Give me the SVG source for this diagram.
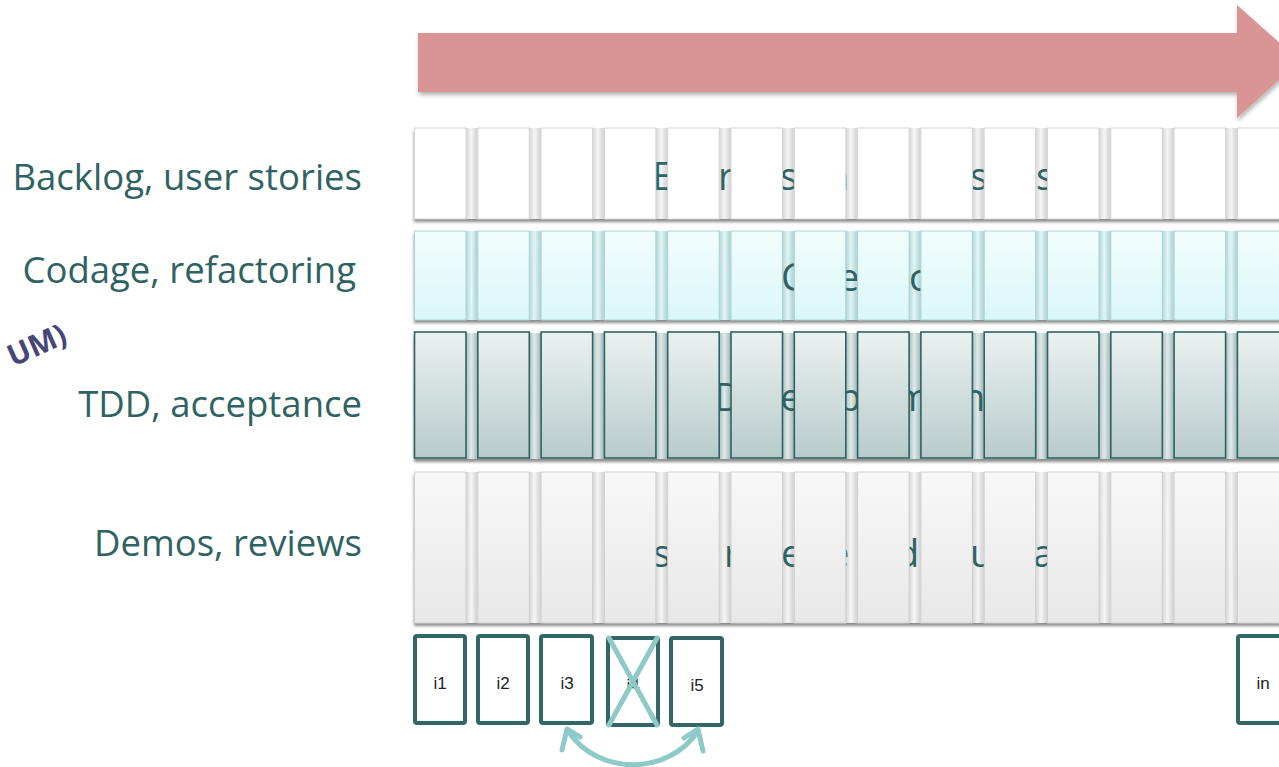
<svg xmlns="http://www.w3.org/2000/svg" width="1279" height="767" viewBox="0 0 1279 767">
<defs>
<filter id="sh" x="-5%" y="-20%" width="110%" height="150%"><feDropShadow dx="0" dy="3" stdDeviation="1.5" flood-color="#000" flood-opacity="0.45"/></filter>
<filter id="ash" x="-5%" y="-20%" width="110%" height="150%"><feDropShadow dx="1" dy="3" stdDeviation="2" flood-color="#000" flood-opacity="0.3"/></filter>
<linearGradient id="gapG" x1="0" y1="0" x2="1" y2="0"><stop offset="0" stop-color="#cfcfcf"/><stop offset="0.5" stop-color="#f6f6f6"/><stop offset="1" stop-color="#cfcfcf"/></linearGradient>
<linearGradient id="gapC" x1="0" y1="0" x2="1" y2="0"><stop offset="0" stop-color="#abcfcf"/><stop offset="0.5" stop-color="#e2f6f6"/><stop offset="1" stop-color="#abcfcf"/></linearGradient>
<linearGradient id="gapD" x1="0" y1="0" x2="1" y2="0"><stop offset="0" stop-color="#9db6b6"/><stop offset="0.5" stop-color="#e2eaea"/><stop offset="1" stop-color="#9db6b6"/></linearGradient>
<pattern id="pG" patternUnits="userSpaceOnUse" x="465" y="0" width="63.3" height="800"><rect width="63.3" height="800" fill="#f0f0f0"/><rect x="0" y="0" width="12.5" height="800" fill="url(#gapG)"/></pattern>
<pattern id="pC" patternUnits="userSpaceOnUse" x="465" y="0" width="63.3" height="800"><rect width="63.3" height="800" fill="#d6eeee"/><rect x="0" y="0" width="12.5" height="800" fill="url(#gapC)"/></pattern>
<pattern id="pD" patternUnits="userSpaceOnUse" x="465" y="0" width="63.3" height="800"><rect width="63.3" height="800" fill="#c8d6d6"/><rect x="0" y="0" width="12.5" height="800" fill="url(#gapD)"/></pattern>
<linearGradient id="fC" x1="0" y1="0" x2="0" y2="1"><stop offset="0" stop-color="#f2fdfd"/><stop offset="1" stop-color="#dbf7f7"/></linearGradient>
<linearGradient id="fD" x1="0" y1="0" x2="0" y2="1"><stop offset="0" stop-color="#ebf1f1"/><stop offset="1" stop-color="#b8cbcb"/></linearGradient>
<linearGradient id="fE" x1="0" y1="0" x2="0" y2="1"><stop offset="0" stop-color="#f8f8f8"/><stop offset="1" stop-color="#e8e8e8"/></linearGradient>
</defs>
<style>
.lbl{font-family:"Open Sans",sans-serif;font-size:36.5px;fill:#2f6363;text-anchor:end}
.bg{font-family:"Open Sans",sans-serif;font-size:38px;fill:#2f6363}
.c1{fill:#ffffff;stroke:#d4d4d4;stroke-width:1}
.c2{fill:url(#fC);stroke:#a9d2d2;stroke-width:1}
.c3{fill:url(#fD);stroke:#2f6363;stroke-width:1.6}
.c4{fill:url(#fE);stroke:#cfcfcf;stroke-width:1}
.box{fill:#fff;stroke:#336666;stroke-width:4}
.bt{font-family:"Liberation Sans",Arial,sans-serif;font-size:17px;fill:#222;text-anchor:middle}
</style>

<g id="timeline-arrow" filter="url(#ash)">
<polygon points="418,33 1237,33 1237,5 1300,61 1237,118 1237,92 418,92" fill="#d99594"/>
</g>

<g id="labels">
<text class="lbl" x="362" y="190">Backlog, user stories</text>
<text class="lbl" x="356" y="283">Codage, refactoring</text>
<text class="lbl" x="362" y="417">TDD, acceptance</text>
<text class="lbl" x="362" y="556">Demos, reviews</text>
<text x="13" y="367" transform="rotate(-24 13 367)" font-family="'Open Sans',sans-serif" font-weight="bold" font-size="30" fill="#46467a">UM)</text>
</g>

<g id="row1">
<g filter="url(#sh)"><rect x="414" y="128" width="870" height="91" fill="url(#pG)"/></g>
<g class="bg">
<text x="652" y="190">E</text><text x="718" y="190">r</text><text x="780" y="190">s</text><text x="826" y="190">n</text><text x="970" y="190">s</text><text x="1036" y="190">s</text>
</g>
<g class="c1">
<rect x="414.5" y="128" width="51.5" height="91"/><rect x="477.8" y="128" width="51.5" height="91"/><rect x="541.1" y="128" width="51.5" height="91"/><rect x="604.4" y="128" width="51.5" height="91"/><rect x="667.7" y="128" width="51.5" height="91"/><rect x="731" y="128" width="51.5" height="91"/><rect x="794.3" y="128" width="51.5" height="91"/><rect x="857.6" y="128" width="51.5" height="91"/><rect x="920.9" y="128" width="51.5" height="91"/><rect x="984.2" y="128" width="51.5" height="91"/><rect x="1047.5" y="128" width="51.5" height="91"/><rect x="1110.8" y="128" width="51.5" height="91"/><rect x="1174.1" y="128" width="51.5" height="91"/><rect x="1237.4" y="128" width="51.5" height="91"/>
</g>
</g>

<g id="row2">
<g filter="url(#sh)"><rect x="414" y="231" width="870" height="89" fill="url(#pC)"/></g>
<g class="bg">
<text x="781" y="291">C</text><text x="838" y="291">e</text><text x="909" y="291">c</text>
</g>
<g class="c2">
<rect x="414.5" y="231" width="51.5" height="89"/><rect x="477.8" y="231" width="51.5" height="89"/><rect x="541.1" y="231" width="51.5" height="89"/><rect x="604.4" y="231" width="51.5" height="89"/><rect x="667.7" y="231" width="51.5" height="89"/><rect x="731" y="231" width="51.5" height="89"/><rect x="794.3" y="231" width="51.5" height="89"/><rect x="857.6" y="231" width="51.5" height="89"/><rect x="920.9" y="231" width="51.5" height="89"/><rect x="984.2" y="231" width="51.5" height="89"/><rect x="1047.5" y="231" width="51.5" height="89"/><rect x="1110.8" y="231" width="51.5" height="89"/><rect x="1174.1" y="231" width="51.5" height="89"/><rect x="1237.4" y="231" width="51.5" height="89"/>
</g>
</g>

<g id="row3">
<g filter="url(#sh)"><rect x="414" y="333" width="870" height="126" fill="url(#pD)"/></g>
<g class="bg">
<text x="714" y="411">D</text><text x="780" y="411">e</text><text x="838" y="411">p</text><text x="895" y="411">m</text><text x="962" y="411">n</text>
</g>
<g class="c3">
<rect x="414.5" y="332" width="51.5" height="126"/><rect x="477.8" y="332" width="51.5" height="126"/><rect x="541.1" y="332" width="51.5" height="126"/><rect x="604.4" y="332" width="51.5" height="126"/><rect x="667.7" y="332" width="51.5" height="126"/><rect x="731" y="332" width="51.5" height="126"/><rect x="794.3" y="332" width="51.5" height="126"/><rect x="857.6" y="332" width="51.5" height="126"/><rect x="920.9" y="332" width="51.5" height="126"/><rect x="984.2" y="332" width="51.5" height="126"/><rect x="1047.5" y="332" width="51.5" height="126"/><rect x="1110.8" y="332" width="51.5" height="126"/><rect x="1174.1" y="332" width="51.5" height="126"/><rect x="1237.4" y="332" width="51.5" height="126"/>
</g>
</g>

<g id="row4">
<g filter="url(#sh)"><rect x="414" y="472" width="870" height="151" fill="url(#pG)"/></g>
<g class="bg">
<text x="653" y="567">s</text><text x="724" y="567">r</text><text x="781" y="567">e</text><text x="828" y="567">e</text><text x="896" y="567">d</text><text x="970" y="567">u</text><text x="1033" y="567">a</text>
</g>
<g class="c4">
<rect x="414.5" y="472" width="51.5" height="151"/><rect x="477.8" y="472" width="51.5" height="151"/><rect x="541.1" y="472" width="51.5" height="151"/><rect x="604.4" y="472" width="51.5" height="151"/><rect x="667.7" y="472" width="51.5" height="151"/><rect x="731" y="472" width="51.5" height="151"/><rect x="794.3" y="472" width="51.5" height="151"/><rect x="857.6" y="472" width="51.5" height="151"/><rect x="920.9" y="472" width="51.5" height="151"/><rect x="984.2" y="472" width="51.5" height="151"/><rect x="1047.5" y="472" width="51.5" height="151"/><rect x="1110.8" y="472" width="51.5" height="151"/><rect x="1174.1" y="472" width="51.5" height="151"/><rect x="1237.4" y="472" width="51.5" height="151"/>
</g>
</g>

<g id="i1"><rect class="box" x="415" y="636" width="50" height="87" rx="2"/><text class="bt" x="440" y="689">i1</text></g>
<g id="i2"><rect class="box" x="478" y="636" width="50" height="87" rx="2"/><text class="bt" x="503" y="689">i2</text></g>
<g id="i3"><rect class="box" x="541" y="636" width="51" height="87" rx="2"/><text class="bt" x="567" y="689">i3</text></g>
<g id="i4"><rect class="box" x="608" y="638" width="50" height="87" rx="2"/><text class="bt" x="633" y="691">i4</text>
<path d="M609,638 L657,725 M657,638 L609,725" stroke="#8ec9c6" stroke-width="5" stroke-linecap="round"/></g>
<g id="i5"><rect class="box" x="671" y="638" width="51" height="87" rx="2"/><text class="bt" x="697" y="691">i5</text></g>
<g id="in"><rect class="box" x="1238" y="636" width="60" height="87" rx="2"/><text class="bt" x="1263" y="689">in</text></g>

<g id="connectors" fill="none" stroke="#8ecac8" stroke-width="5" stroke-linecap="round" stroke-linejoin="round">
<path d="M568,731 C598,776 668,776 698,731"/>
<path d="M562,750 L567,729 L580,737"/>
<path d="M684,738 L698,729 L703,751"/>
</g>
</svg>
